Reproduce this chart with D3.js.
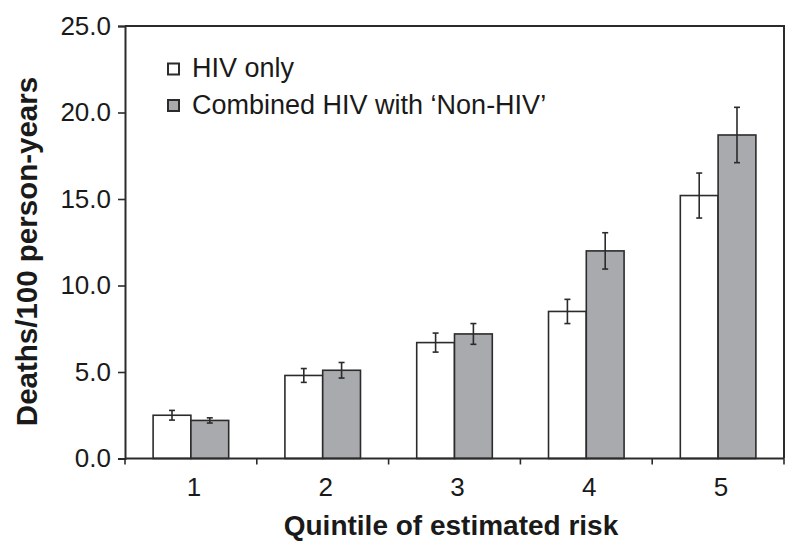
<!DOCTYPE html>
<html>
<head>
<meta charset="utf-8">
<script src="https://cdn.jsdelivr.net/npm/d3@7"></script>
<style>
  html, body { margin: 0; padding: 0; background: #fff; }
  svg { display: block; font-family: "Liberation Sans", Arial, Helvetica, sans-serif; }
</style>
</head>
<body>
<svg id="chart" width="800" height="551"></svg>
<script>
const categories = ["1", "2", "3", "4", "5"];
const seriesNames = ["HIV only", "Combined HIV with \u2018Non-HIV\u2019"];
const hivOnly = [2.5, 4.8, 6.7, 8.5, 15.2];
const hivOnlyErr = [0.28, 0.4, 0.55, 0.7, 1.3];
const combined = [2.2, 5.1, 7.2, 12.0, 18.7];
const combinedErr = [0.15, 0.45, 0.6, 1.05, 1.6];
const yTicks = [0, 5, 10, 15, 20, 25];

const svg = d3.select("#chart");
const m = { left: 125, right: 784, top: 26, bottom: 458.5 };
const colors = ["#ffffff", "#a9aaad"];
const stroke = "#2b2b2b";

const x = d3.scaleBand().domain(categories).range([m.left, m.right]).paddingInner(0).paddingOuter(0);
const xs = d3.scaleBand().domain([0, 1]).range([0, x.bandwidth()]).paddingInner(0).paddingOuter(0.744);
const y = d3.scaleLinear().domain([0, 25]).range([m.bottom, m.top]);

const data = categories.map((c, i) => [
  { c, s: 0, v: hivOnly[i], e: hivOnlyErr[i] },
  { c, s: 1, v: combined[i], e: combinedErr[i] }
]).flat();

// bars
svg.append("g").selectAll("rect").data(data).join("rect")
  .attr("x", d => x(d.c) + xs(d.s))
  .attr("y", d => y(d.v))
  .attr("width", xs.bandwidth())
  .attr("height", d => y(0) - y(d.v))
  .attr("fill", d => colors[d.s])
  .attr("stroke", stroke)
  .attr("stroke-width", 1.6);

// error bars
const eg = svg.append("g").attr("stroke", stroke).attr("stroke-width", 1.6);
data.forEach(d => {
  const cx = x(d.c) + xs(d.s) + xs.bandwidth() / 2;
  eg.append("line").attr("x1", cx).attr("x2", cx).attr("y1", y(d.v + d.e)).attr("y2", y(d.v - d.e));
  eg.append("line").attr("x1", cx - 3).attr("x2", cx + 3).attr("y1", y(d.v + d.e)).attr("y2", y(d.v + d.e));
  eg.append("line").attr("x1", cx - 3).attr("x2", cx + 3).attr("y1", y(d.v - d.e)).attr("y2", y(d.v - d.e));
});

// frame (top & right)
svg.append("path")
  .attr("d", `M${m.left},${m.top}H${m.right}V${m.bottom}`)
  .attr("fill", "none").attr("stroke", stroke).attr("stroke-width", 2);

// y axis
const yAxis = svg.append("g").attr("transform", `translate(${m.left},0)`)
  .call(d3.axisLeft(y).tickValues(yTicks).tickFormat(d3.format(".1f")).tickSize(7).tickPadding(7));
yAxis.select(".domain").attr("stroke", stroke).attr("stroke-width", 2);
yAxis.selectAll(".tick line").attr("stroke", stroke).attr("stroke-width", 1.6);
yAxis.selectAll(".tick text").attr("font-size", 26).attr("fill", "#1a1a1a")
  .attr("font-family", "'Liberation Sans', Arial, sans-serif");

// x axis: ticks at category boundaries
const xAxis = svg.append("g").attr("transform", `translate(0,${m.bottom})`);
xAxis.append("line").attr("x1", m.left).attr("x2", m.right).attr("stroke", stroke).attr("stroke-width", 2);
const bounds = categories.map(c => x(c)).concat([x(categories[categories.length - 1]) + x.bandwidth()]);
xAxis.selectAll("line.tk").data(bounds).join("line").attr("class", "tk")
  .attr("x1", d => d).attr("x2", d => d).attr("y1", 0).attr("y2", 6)
  .attr("stroke", stroke).attr("stroke-width", 1.6);
xAxis.selectAll("text").data(categories).join("text")
  .attr("x", d => x(d) + x.bandwidth() / 2 + 3)
  .attr("y", 37)
  .attr("text-anchor", "middle")
  .attr("font-size", 26).attr("fill", "#1a1a1a")
  .text(d => d);

// axis titles
svg.append("text")
  .attr("x", 451).attr("y", 535)
  .attr("text-anchor", "middle")
  .attr("font-size", 28).attr("font-weight", "bold").attr("fill", "#1a1a1a")
  .text("Quintile of estimated risk");
svg.append("text")
  .attr("transform", `translate(37,${251.5}) rotate(-90)`)
  .attr("text-anchor", "middle")
  .attr("font-size", 29.5).attr("font-weight", "bold").attr("fill", "#1a1a1a")
  .text("Deaths/100 person-years");

// legend
const lg = svg.append("g").attr("transform", "translate(167,63)");
seriesNames.forEach((n, i) => {
  const row = lg.append("g").attr("transform", `translate(0,${i * 36.5})`);
  row.append("rect").attr("x", 1).attr("y", 0.5).attr("width", 11).attr("height", 11)
    .attr("fill", colors[i]).attr("stroke", stroke).attr("stroke-width", 2);
  row.append("text").attr("x", 25).attr("y", 14)
    .attr("font-size", 27).attr("fill", "#1a1a1a").text(n);
});
</script>
</body>
</html>
